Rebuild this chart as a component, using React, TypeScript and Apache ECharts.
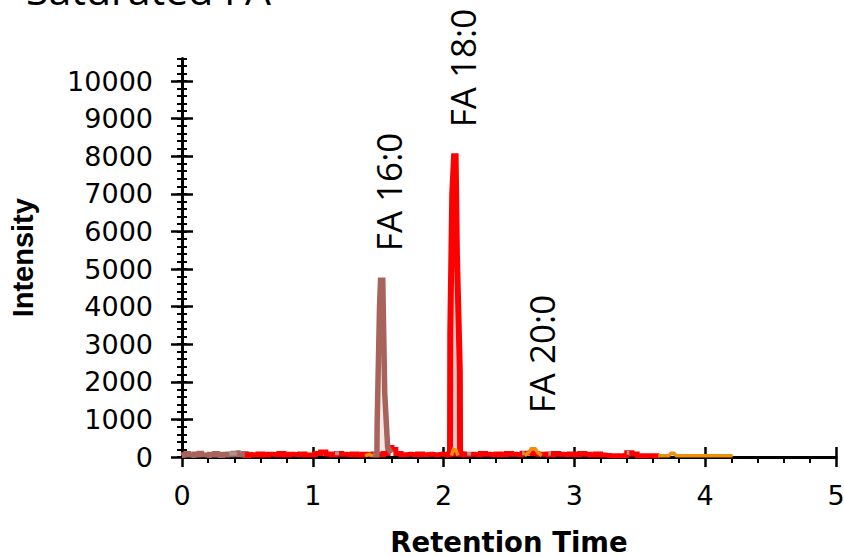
import { useEffect, useRef } from "react";
import * as echarts from "echarts";

const chartTitle = "Saturated FA";
const xName = "Retention Time";
const yName = "Intensity";
const yTickValues = [0, 1000, 2000, 3000, 4000, 5000, 6000, 7000, 8000, 9000, 10000];
const yMax = 10600;
const xMin = 0;
const xMax = 5;

const brownBaseline = [
  [0, 40], [0.02, 60], [0.04, 90], [0.06, 50], [0.08, 40], [0.1, 80], [0.12, 50], [0.14, 100],
  [0.16, 60], [0.18, 50], [0.2, 40], [0.22, 70], [0.24, 50], [0.26, 90], [0.28, 60], [0.3, 40],
  [0.32, 70], [0.34, 50], [0.36, 80], [0.38, 60], [0.4, 100], [0.42, 110], [0.44, 60], [0.46, 50],
  [0.48, 90], [0.5, 40], [0.52, 70], [0.54, 60], [0.56, 50],
];
const brownPeak = [
  [1.46, 60], [1.49, 60], [1.492, 900], [1.51, 4000], [1.518, 4700], [1.535, 4700],
  [1.55, 1700], [1.572, 270], [1.6, 100],
];
const redBaseline = [
  [0.48, 40], [0.52, 60], [0.56, 50], [0.6, 80], [0.64, 50], [0.68, 70], [0.72, 60], [0.76, 90],
  [0.8, 50], [0.84, 70], [0.88, 60], [0.92, 80], [0.96, 50], [1.0, 60], [1.04, 90], [1.08, 130],
  [1.12, 80], [1.16, 60], [1.2, 90], [1.24, 70], [1.28, 60], [1.32, 80], [1.36, 50], [1.4, 70],
  [1.44, 60], [1.48, 80], [1.52, 60], [1.56, 90], [1.59, 250], [1.62, 200], [1.65, 90], [1.7, 60],
  [1.74, 70], [1.78, 60], [1.82, 80], [1.86, 60], [1.9, 70], [1.94, 60], [1.98, 70], [2.02, 60],
  [2.06, 80], [2.1, 70], [2.14, 80], [2.18, 60], [2.22, 70], [2.26, 60], [2.3, 90], [2.34, 70],
  [2.38, 60], [2.42, 80], [2.46, 60], [2.5, 90], [2.54, 70], [2.58, 60], [2.62, 100], [2.66, 110],
  [2.7, 90], [2.74, 70], [2.78, 80], [2.82, 60], [2.86, 90], [2.9, 70], [2.94, 60], [2.98, 80],
  [3.02, 60], [3.06, 90], [3.1, 70], [3.14, 50], [3.18, 80], [3.22, 50], [3.26, 40], [3.3, 30],
  [3.34, 30], [3.38, 40], [3.42, 110], [3.46, 80], [3.5, 30], [3.54, 30], [3.58, 30], [3.62, 30],
  [3.65, 30],
];
const redPeak = [
  [2.02, 60], [2.049, 80], [2.051, 3300], [2.066, 7000], [2.08, 8000], [2.092, 8000],
  [2.102, 5400], [2.124, 2300], [2.126, 100], [2.16, 60],
];
const orangeSeg1 = [[1.4, 30], [1.43, 70], [1.46, 30]];
const orangeSeg2 = [[2.06, 40], [2.075, 200], [2.095, 180], [2.11, 40]];
const orangeSeg3 = [[2.62, 40], [2.65, 120], [2.67, 220], [2.7, 220], [2.72, 120], [2.75, 40]];
const orangeSeg4 = [[3.64, 30], [3.72, 30], [3.74, 100], [3.76, 100], [3.78, 30], [4.21, 30]];
const greySeg1 = [[0.36, 90], [0.42, 90]];
const greySeg2 = [[1.17, 100], [1.2, 100]];
const greySeg3 = [[2.18, 90], [2.21, 90]];
const greySeg4 = [[2.6, 100], [2.62, 100]];
const greySeg5 = [[2.8, 90], [2.82, 90]];
const greySeg6 = [[3.4, 110], [3.42, 110]];

const peakLabels = [
  { text: "FA 16:0", x: 1.575, y: 7050 },
  { text: "FA 18:0", x: 2.148, y: 10346 },
  { text: "FA 20:0", x: 2.745, y: 2740 },
];

const RED = "#FF0000";
const BROWN = "#A8645C";
const ORANGE = "#EE900C";
const GREY = "#A8958F";

function lineSeries(data: number[][], color: string, width: number, opts: any = {}) {
  return {
    type: "line",
    xAxisIndex: 0,
    yAxisIndex: 0,
    data,
    symbol: "none",
    showSymbol: false,
    silent: true,
    lineStyle: { color, width, cap: "butt", join: "miter" },
    itemStyle: { color },
    ...opts,
  };
}

export default function App() {
  const ref = useRef<HTMLDivElement>(null);
  useEffect(() => {
    if (!ref.current) return;
    const chart = echarts.init(ref.current, null, { renderer: "svg" });
    const tickLine = { color: "#000", width: 2.5 };
    const minorLine = { color: "#000", width: 2 };
    const yCommon: any = {
      type: "value",
      min: 0,
      max: yMax,
      position: "left",
      offset: 0,
      splitLine: { show: false },
      axisLine: { show: false },
      axisLabel: { show: false },
    };
    const xCommon: any = {
      type: "value",
      min: xMin,
      max: xMax,
      interval: 1,
      position: "bottom",
      offset: 0,
      splitLine: { show: false },
      axisLine: { show: false },
      axisLabel: { show: false },
    };
    chart.setOption({
      animation: false,
      backgroundColor: "#fff",
      grid: {
        left: 182,
        right: 8,
        top: 58.44,
        bottom: 100,
        containLabel: false,
        outerBoundsMode: "none",
      },
      xAxis: [
        {
          ...xCommon,
          name: xName,
          nameLocation: "middle",
          nameGap: 71,
          nameTextStyle: { fontFamily: "DejaVu Sans", fontWeight: "bold", fontSize: 27.5, color: "#000" },
          axisLine: { show: true, onZero: false, lineStyle: { color: "#000", width: 3 } },
          axisTick: { show: true, inside: false, length: 10, lineStyle: tickLine },
          minorTick: { show: true, splitNumber: 5, length: 6, lineStyle: minorLine },
          axisLabel: { show: true, margin: 24.5, fontFamily: "DejaVu Sans", fontSize: 27, color: "#000" },
        },
        {
          ...xCommon,
          axisTick: { show: true, inside: true, length: 10, lineStyle: tickLine },
        },
      ],
      yAxis: [
        {
          ...yCommon,
          interval: 1000,
          name: yName,
          nameLocation: "middle",
          nameGap: 145,
          nameTextStyle: { fontFamily: "Liberation Sans", fontWeight: "bold", fontSize: 29, color: "#000" },
          axisLine: { show: true, onZero: false, lineStyle: { color: "#000", width: 3 } },
          axisTick: { show: true, inside: false, length: 11, lineStyle: tickLine, customValues: yTickValues },
          axisLabel: {
            show: true,
            margin: 29,
            customValues: yTickValues,
            formatter: (v: number) => String(v),
            fontFamily: "DejaVu Sans",
            fontSize: 27,
            color: "#000",
          },
        },
        {
          ...yCommon,
          interval: 1000,
          axisTick: { show: true, inside: true, length: 11, lineStyle: tickLine, customValues: yTickValues },
        },
        {
          ...yCommon,
          interval: 200,
          axisTick: { show: true, inside: false, length: 5, lineStyle: minorLine },
        },
        {
          ...yCommon,
          interval: 200,
          axisTick: { show: true, inside: true, length: 5, lineStyle: minorLine },
        },
      ],
      series: [
        lineSeries(brownBaseline, BROWN, 5, { step: "middle" }),
        lineSeries(redBaseline, RED, 5, { step: "middle" }),
        lineSeries(greySeg1, GREY, 4),
        lineSeries(greySeg2, GREY, 4),
        lineSeries(greySeg3, GREY, 4),
        lineSeries(greySeg4, GREY, 4),
        lineSeries(greySeg5, GREY, 4),
        lineSeries(greySeg6, GREY, 4),
        lineSeries(brownPeak, BROWN, 5.5, { areaStyle: { color: BROWN, opacity: 0.15 } }),
        lineSeries(redPeak, RED, 6, { areaStyle: { color: RED, opacity: 0.22 } }),
        lineSeries(orangeSeg1, ORANGE, 3.5),
        lineSeries(orangeSeg2, ORANGE, 3.5),
        lineSeries(orangeSeg3, ORANGE, 3.5),
        lineSeries(orangeSeg4, ORANGE, 3.5),
      ],
    });

    const graphics: any[] = [
      {
        type: "text",
        x: 26,
        y: -11,
        silent: true,
        style: {
          text: chartTitle,
          fontFamily: "Open Sans",
          fontSize: 41,
          fill: "#000",
          align: "left",
          textAlign: "left",
          verticalAlign: "middle",
          textVerticalAlign: "middle",
        },
      },
    ];
    peakLabels.forEach((p) => {
      const pt = chart.convertToPixel({ xAxisIndex: 0, yAxisIndex: 0 } as any, [p.x, p.y]) as number[];
      graphics.push({
        type: "text",
        x: pt[0],
        y: pt[1],
        rotation: Math.PI / 2,
        silent: true,
        style: {
          text: p.text,
          fontFamily: "Open Sans",
          fontSize: 35,
          fill: "#000",
          align: "center",
          textAlign: "center",
          verticalAlign: "middle",
          textVerticalAlign: "middle",
        },
      });
    });
    chart.setOption({ graphic: graphics });

    return () => chart.dispose();
  }, []);
  return (
    <div
      ref={ref}
      style={{ position: "fixed", left: 0, top: 0, width: 844, height: 557, background: "#fff" }}
    />
  );
}
